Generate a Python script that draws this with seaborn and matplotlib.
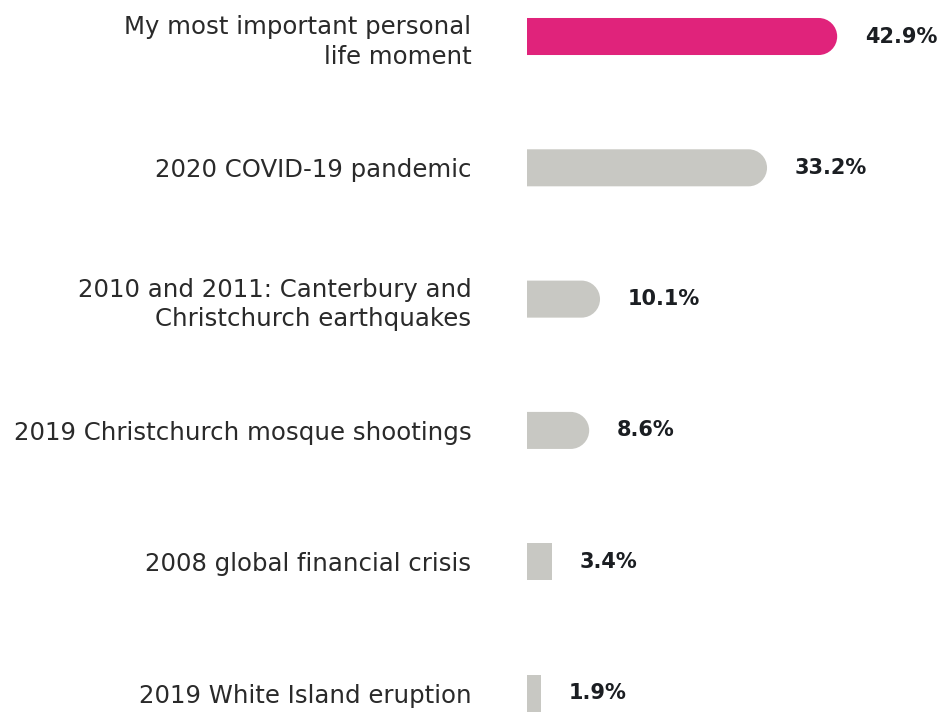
import matplotlib
matplotlib.use("Agg")
import matplotlib.pyplot as plt
import seaborn as sns
import pandas as pd
from matplotlib.path import Path
from matplotlib.patches import PathPatch

categories = [
    "My most important personal\nlife moment",
    "2020 COVID-19 pandemic",
    "2010 and 2011: Canterbury and\nChristchurch earthquakes",
    "2019 Christchurch mosque shootings",
    "2008 global financial crisis",
    "2019 White Island eruption",
]
values = [42.9, 33.2, 10.1, 8.6, 3.4, 1.9]
value_labels = ["42.9%", "33.2%", "10.1%", "8.6%", "3.4%", "1.9%"]

PINK = "#E0237B"
GREY = "#C8C8C3"
colors = [PINK] + [GREY] * (len(categories) - 1)

sns.set_theme(style="white")
plt.rcParams["font.family"] = ["DejaVu Sans"]

df = pd.DataFrame({"event": categories, "share": values})

fig = plt.figure(figsize=(9.4, 7.13), dpi=100)
W, H = 940, 713
ax = fig.add_axes([527 / W, 0, 1 - 527 / W, 1])

sns.barplot(data=df, x="share", y="event", hue="event", palette=colors,
            legend=False, width=0.282, ax=ax, saturation=1)

ax.set_xlim(0, (940 - 527) / 7.23)
ax.set_ylim(5.152, -0.278)
sns.despine(ax=ax, left=True, bottom=True)
ax.set_xticks([])
ax.set_xlabel("")
ax.set_ylabel("")
ax.tick_params(axis="y", length=0, pad=40)
for lbl in ax.get_yticklabels():
    lbl.set_fontsize(17.6)
    lbl.set_color("#2a2a2a")
    lbl.set_horizontalalignment("right")
    lbl.set_multialignment("right")
    lbl.set_linespacing(1.3)

# Replace plain rectangles with bars that have a rounded right end
fig.canvas.draw()
to_disp = ax.transData
to_data = ax.transData.inverted()
k = 0.5523
for patch in list(ax.patches):
    x, y = patch.get_x(), patch.get_y()
    w, h = patch.get_width(), patch.get_height()
    (dx0, dy0), (dx1, dy1) = to_disp.transform([(x, y), (x + w, y + h)])
    left, right = min(dx0, dx1), max(dx0, dx1)
    bot, top = min(dy0, dy1), max(dy0, dy1)
    bw, bh = right - left, top - bot
    r = bh / 2 if bw >= bh else 0.0
    if r > 0:
        verts = [
            (left, bot), (right - r, bot),
            (right - r + k * r, bot), (right, bot + r - k * r), (right, bot + r),
            (right, top - r),
            (right, top - r + k * r), (right - r + k * r, top), (right - r, top),
            (left, top), (left, bot),
        ]
        codes = [Path.MOVETO, Path.LINETO,
                 Path.CURVE4, Path.CURVE4, Path.CURVE4,
                 Path.LINETO,
                 Path.CURVE4, Path.CURVE4, Path.CURVE4,
                 Path.LINETO, Path.CLOSEPOLY]
    else:
        verts = [(left, bot), (right, bot), (right, top), (left, top), (left, bot)]
        codes = [Path.MOVETO, Path.LINETO, Path.LINETO, Path.LINETO, Path.CLOSEPOLY]
    path = Path(to_data.transform(verts), codes)
    ax.add_patch(PathPatch(path, facecolor=patch.get_facecolor(),
                           edgecolor="none", lw=0))
    patch.set_visible(False)

for i, (v, txt) in enumerate(zip(values, value_labels)):
    ax.annotate(txt, xy=(v, i), xytext=(28, 0), textcoords="offset pixels",
                ha="left", va="center", fontsize=15, fontweight="bold",
                color="#1b1e22")

fig.savefig("out.png", dpi=100)
